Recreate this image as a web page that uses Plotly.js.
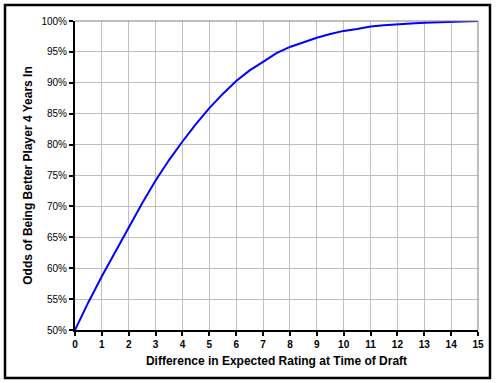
<!DOCTYPE html>
<html><head><meta charset="utf-8">
<script src="https://cdn.plot.ly/plotly-3.0.1.min.js"></script>
<style>html,body{margin:0;padding:0;background:#fff}#c{width:496px;height:383px}</style>
</head><body><div id="c"></div>
<script>
var diff = [0,0.5,1,1.5,2,2.5,3,3.5,4,4.5,5,5.5,6,6.5,7,7.5,8,8.5,9,9.5,10,10.5,11,11.5,12,12.5,13,13.5,14,14.5,15];
var odds = [0.500,0.545,0.587,0.627,0.666,0.705,0.742,0.775,0.805,0.833,0.859,0.882,0.903,0.920,0.934,0.948,0.958,0.966,0.973,0.979,0.984,0.987,0.991,0.993,0.995,0.996,0.997,0.998,0.999,0.9995,1.000];
var xTicks = [0,1,2,3,4,5,6,7,8,9,10,11,12,13,14,15];
var yTicks = [0.50,0.55,0.60,0.65,0.70,0.75,0.80,0.85,0.90,0.95,1.00];

var W = 496, H = 383, L = 75, R = 18, T = 21, B = 53;
var pw = W - L - R, ph = H - T - B;
function px(x){ return (x - L) / pw; }
function py(y){ return (H - B - y) / ph; }

var trace = {x: diff, y: odds, type: 'scatter', mode: 'lines',
  line: {color: '#0000ff', width: 2}, hoverinfo: 'skip'};

var layout = {
  width: W, height: H,
  margin: {l: L, r: R, t: T, b: B, pad: 0},
  paper_bgcolor: '#ffffff', plot_bgcolor: '#ffffff',
  showlegend: false,
  font: {family: 'Liberation Sans, Arial, sans-serif', color: '#000', size: 10},
  xaxis: {
    range: [0, 15], tickvals: xTicks, ticktext: xTicks.map(String),
    showgrid: true, gridcolor: '#c0c0c0', gridwidth: 1,
    showline: true, linecolor: '#000', linewidth: 2,
    ticks: 'outside', ticklen: 4, tickcolor: '#000', tickwidth: 2,
    tickfont: {size: 10, family: 'Liberation Sans, Arial, sans-serif', weight: 'bold'},
    zeroline: false, fixedrange: true,
    title: {text: '<b>Difference in Expected Rating at Time of Draft</b>', font: {size: 12}, standoff: 8}
  },
  yaxis: {
    range: [0.5, 1.0], tickvals: yTicks, tickformat: '.0%',
    showgrid: true, gridcolor: '#c0c0c0', gridwidth: 1,
    showline: true, linecolor: '#000', linewidth: 2,
    ticks: 'outside', ticklen: 4, tickcolor: '#000', tickwidth: 2,
    tickfont: {size: 10},
    zeroline: false, fixedrange: true,
    title: {text: '<b>Odds of Being Better Player 4 Years In</b>', font: {size: 12}, standoff: 6}
  },
  shapes: [
    {type: 'line', xref: 'paper', yref: 'paper', x0: 0, x1: 1, y0: 1, y1: 1, line: {color: '#808080', width: 1}},
    {type: 'line', xref: 'paper', yref: 'paper', x0: 1, x1: 1, y0: 0, y1: 1, line: {color: '#808080', width: 1}},
    {type: 'rect', xref: 'paper', yref: 'paper', x0: px(5), x1: px(490), y0: py(5), y1: py(378), line: {color: '#000', width: 2.5}, fillcolor: 'rgba(0,0,0,0)', layer: 'below'}
  ]
};
Plotly.newPlot('c', [trace], layout, {staticPlot: true, displayModeBar: false});
</script></body></html>
